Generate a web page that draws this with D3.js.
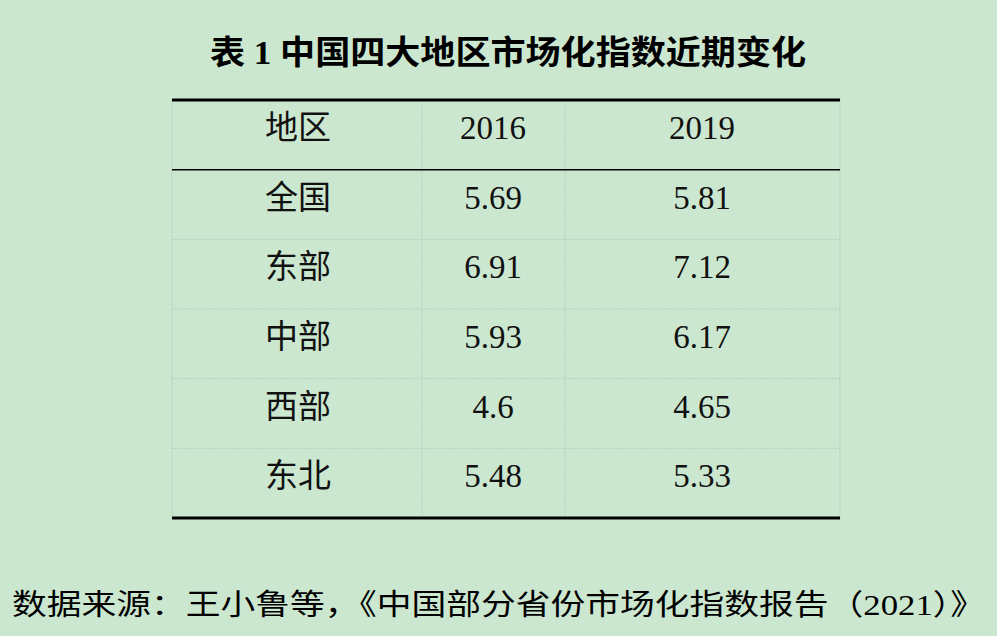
<!DOCTYPE html><html><head><meta charset="utf-8"><script src="https://cdn.jsdelivr.net/npm/d3@7"></script>
<style>body{margin:0;background:#cce7cf}</style></head><body><script>
const headers=["地区","2016","2019"];
const regions=["全国","东部","中部","西部","东北"];
const v2016=["5.69","6.91","5.93","4.6","5.48"];
const v2019=["5.81","7.12","6.17","4.65","5.33"];
const title="表 1 中国四大地区市场化指数近期变化";
const source="数据来源：王小鲁等，《中国部分省份市场化指数报告（2021）》";
const W=997,H=636;
const svg=d3.select("body").append("svg").attr("width",W).attr("height",H);
svg.append("rect").attr("width",W).attr("height",H).attr("fill","#cce7cf");
const font="'Liberation Serif','Noto Sans CJK SC',serif";
const cx=d3.scaleOrdinal().domain([0,1,2]).range([298,493,702]);
const colEdges=[172,422,565,840];
const y=d3.scaleLinear().domain([0,6]).range([100,518]);
svg.append("text").attr("x",508).attr("y",64).attr("text-anchor","middle").attr("font-family",font).attr("font-weight","bold").attr("font-size",33).attr("textLength",596).attr("lengthAdjust","spacingAndGlyphs").text(title);
for(let r=2;r<6;r++) svg.append("line").attr("x1",172).attr("x2",840).attr("y1",y(r)).attr("y2",y(r)).attr("stroke","#b9cfbc").attr("stroke-dasharray","2,1");
colEdges.forEach(x=>svg.append("line").attr("x1",x).attr("x2",x).attr("y1",y(0)).attr("y2",y(6)).attr("stroke","#b9cfbc").attr("stroke-dasharray","2,1"));
[[0,3],[1,1.5],[6,3]].forEach(([r,w])=>svg.append("line").attr("x1",172).attr("x2",840).attr("y1",y(r)).attr("y2",y(r)).attr("stroke","#000").attr("stroke-width",w));
const rows=[headers].concat(regions.map((r,i)=>[r,v2016[i],v2019[i]]));
rows.forEach((row,ri)=>row.forEach((t,ci)=>svg.append("text").attr("x",cx(ci)).attr("y",(y(ri)+y(ri+1))/2+4).attr("text-anchor","middle").attr("font-family",font).attr("font-size",33).attr("fill","#111").text(t)));
svg.append("text").attr("x",12).attr("y",615).attr("font-family",font).attr("font-size",29).attr("textLength",973).attr("lengthAdjust","spacingAndGlyphs").text(source);
</script></body></html>
